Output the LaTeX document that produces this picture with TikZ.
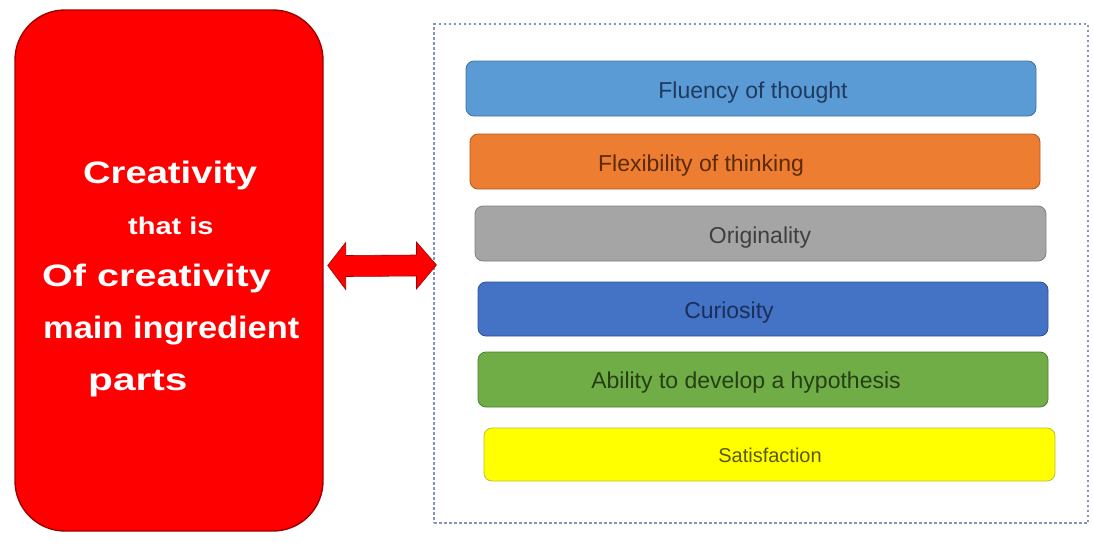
\documentclass[tikz,border=0pt]{standalone}
\usepackage{fontspec}
\usepackage{graphicx}
\setmainfont{Liberation Sans}
\newfontfamily\widefont[FakeStretch=1.15]{Liberation Sans}
\usetikzlibrary{calc}
\definecolor{bar1}{HTML}{5B9BD5}\definecolor{bar1d}{HTML}{41719C}\definecolor{txt1}{HTML}{1F3A5F}
\definecolor{bar2}{HTML}{ED7D31}\definecolor{bar2d}{HTML}{AE5A21}\definecolor{txt2}{HTML}{5C2A08}
\definecolor{bar3}{HTML}{A5A5A5}\definecolor{bar3d}{HTML}{808080}\definecolor{txt3}{HTML}{3F3F3F}
\definecolor{bar4}{HTML}{4472C4}\definecolor{bar4d}{HTML}{2F528F}\definecolor{txt4}{HTML}{1A2F5A}
\definecolor{bar5}{HTML}{70AD47}\definecolor{bar5d}{HTML}{507E32}\definecolor{txt5}{HTML}{243F14}
\definecolor{bar6}{HTML}{FFFF00}\definecolor{bar6d}{HTML}{BFBF30}\definecolor{txt6}{HTML}{5A5A00}
\definecolor{mainred}{HTML}{FF0000}\definecolor{darkred}{HTML}{A00000}
\definecolor{dashcol}{HTML}{8494BC}
\begin{document}
\begin{tikzpicture}[x=1pt,y=-1pt,
  bigbox/.style={draw=darkred, fill=mainred, line width=1.4pt, rounded corners=50pt, minimum width=308pt, minimum height=521pt, inner sep=0pt},
  bigtext/.style={text=white, font=\widefont\bfseries\fontsize{31}{31}\selectfont, anchor=base west, inner sep=0pt},
  frame/.style={draw=dashcol, line width=1.1pt, dash pattern=on 2.5pt off 2.5pt, minimum width=654pt, minimum height=499pt, inner sep=0pt},
  bar/.style={rounded corners=8pt, line width=0.8pt, minimum height=54pt, minimum width=570pt, inner sep=0pt},
  bartext/.style={font=\fontsize{23}{23}\selectfont, anchor=base, inner sep=0pt},
  blockarrow/.style={fill=mainred, draw=darkred, line width=0.6pt, line join=miter}]
\useasboundingbox (0,0) rectangle (1093,544);
% left box
\node[bigbox] (left) at (169,270.5) {};
\node[bigtext] (t1) at (83,183) {\scalebox{1.07}[1]{Creativity}};
\node[bigtext, font=\widefont\bfseries\fontsize{24}{24}\selectfont] (t2) at (128,234) {\scalebox{1.05}[1]{that is}};
\node[bigtext] (t3) at (42,286) {\scalebox{1.11}[1]{Of creativity}};
\node[bigtext] (t4) at (43,338) {\scalebox{0.965}[1]{main ingredient}};
\node[bigtext] (t5) at (88,390) {\scalebox{1.14}[1]{parts}};
% dashed frame
\node[frame] (frame) at (761,273.5) {};
% double block arrow between the box and the frame
\coordinate (al) at ($(left.east)+(4,-5)$);
\coordinate (ar) at ($(frame.west)+(3,-8.5)$);
\draw[blockarrow] (al) -- ++(18,-23) -- ++(0,13) -- ($(ar)+(-20,-10)$) -- ++(0,-13) -- (ar)
  -- ++(-20,24) -- ++(0,-13) -- ($(al)+(18,11)$) -- ++(0,13) -- cycle;
% bars
\node[bar, fill=bar1, draw=bar1d, minimum height=55pt] (b1) at (751,88.5) {};
\node[bartext, text=txt1] (l1) at (753,98) {Fluency of thought};
\node[bar, fill=bar2, draw=bar2d, minimum height=55pt] (b2) at (755,161.5) {};
\node[bartext, text=txt2] (l2) at (701,171) {Flexibility of thinking};
\node[bar, fill=bar3, draw=bar3d, minimum height=55pt, minimum width=571pt] (b3) at (760.5,233.5) {};
\node[bartext, text=txt3] (l3) at (760,243) {Originality};
\node[bar, fill=bar4, draw=bar4d] (b4) at (763,309) {};
\node[bartext, text=txt4] (l4) at (729,318) {Curiosity};
\node[bar, fill=bar5, draw=bar5d, minimum height=55pt] (b5) at (763,379.5) {};
\node[bartext, text=txt5] (l5) at (746,388) {Ability to develop a hypothesis};
\node[bar, fill=bar6, draw=bar6d, minimum height=53pt, minimum width=571pt] (b6) at (769.5,454.5) {};
\node[bartext, text=txt6, font=\fontsize{20}{20}\selectfont] (l6) at (770,462) {Satisfaction};
\end{tikzpicture}
\end{document}
